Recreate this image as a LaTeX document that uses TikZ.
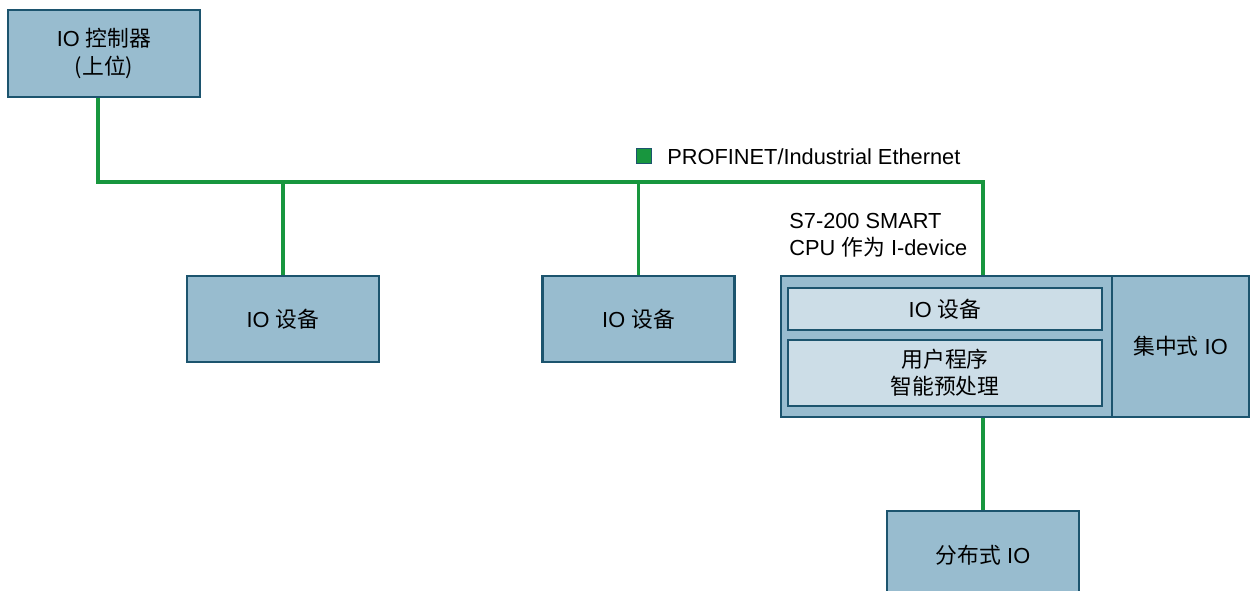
\documentclass[tikz,border=0pt]{standalone}
\usepackage{fontspec}
\setmainfont{Liberation Sans}
\newfontfamily\cjk{Noto Sans CJK SC}
\usetikzlibrary{positioning}
\definecolor{boxBlue}{RGB}{152,188,207}
\definecolor{boxLight}{RGB}{204,221,231}
\definecolor{boxEdge}{RGB}{28,84,110}
\definecolor{netGreen}{RGB}{24,150,62}

\begin{document}
\begin{tikzpicture}[
  x=0.02cm, y=-0.02cm,
  every node/.style={font=\fontsize{12.4}{15.4}\selectfont},
  devbox/.style={draw=boxEdge,fill=boxBlue,line width=1.2pt,minimum width=3.84cm,minimum height=1.72cm,inner sep=0pt,align=center},
  innerbox/.style={draw=boxEdge,fill=boxLight,line width=1.2pt,minimum width=6.28cm,inner sep=0pt,align=center},
  bus/.style={draw=netGreen,line width=2.2pt}
]
  \clip (0,0) rectangle (1250,591);
  \fill[white] (0,0) rectangle (1250,591);

  % Controller and plain IO devices.
  \node[devbox,minimum height=1.74cm] (ctrl) at (104,53.5) {IO {\cjk 控制器}\\{\cjk (上位)}};
  \node[devbox] (dev1) at (283,319) {IO {\cjk 设备}};
  \node[devbox] (dev2) at (638.5,319) {IO {\cjk 设备}};

  % CPU as I-device, with its central IO.
  \node[devbox,minimum width=6.62cm,minimum height=2.82cm] (cpu) at (946.5,346.5) {};
  \node[devbox,minimum width=2.74cm,minimum height=2.82cm] (cio) at (1180.5,346.5) {{\cjk 集中式} IO};
  \node[innerbox,minimum height=0.84cm] (cpuio) at (945,309) {IO {\cjk 设备}};
  \node[innerbox,minimum height=1.32cm] (prog) at (945,373) {\cjk 用户程序\\\cjk 智能预处理};
  \node[anchor=west,align=left,inner sep=0pt] (cpulbl) at (789,235) {S7-200 SMART\\CPU {\cjk 作为} I-device};

  \node[devbox,minimum height=1.78cm] (dist) at (983,555.5) {{\cjk 分布式} IO};

  % Legend.
  \node[draw=boxEdge,fill=netGreen,line width=0.4pt,minimum size=0.3cm,inner sep=0pt] (key) at (644,156) {};
  \node[anchor=west,inner sep=0pt] (keylbl) at (667,157) {PROFINET/Industrial Ethernet};

  % Network.
  \coordinate (busR) at (983,182);
  \draw[bus] ([xshift=-0.12cm]ctrl.south) |- (busR) -- (busR |- cpu.north);
  \draw[bus] (dev1.north) -- (dev1.north |- busR);
  \draw[bus] (dev2.north) -- (dev2.north |- busR);
  \draw[bus] (dist.north) -- (dist.north |- cpu.south);
\end{tikzpicture}
\end{document}
